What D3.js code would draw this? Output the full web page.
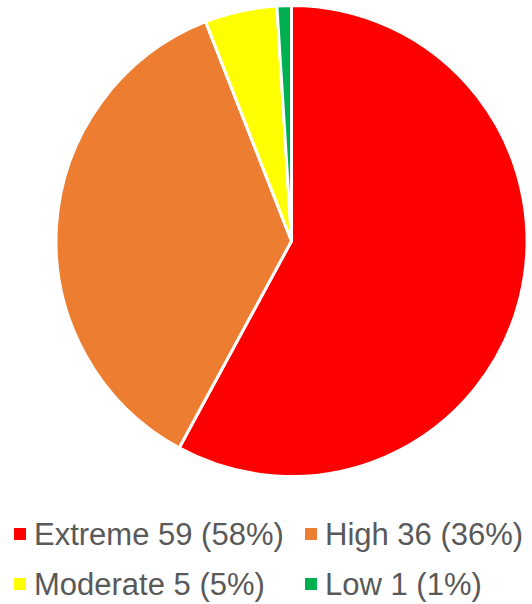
<!DOCTYPE html>
<html>
<head>
  <meta charset="utf-8">
  <script src="https://d3js.org/d3.v7.min.js"></script>
  <style>
    body { margin: 0; background: #fff; }
  </style>
</head>
<body>
  <svg id="chart" width="532" height="604"></svg>
  <script>
    var categories = ["Extreme", "High", "Moderate", "Low"];
    // slice sizes
    var sliceValues = [58.5, 36.5, 5, 1];
    // numbers printed in the legend
    var counts = [59, 36, 5, 1];
    var percents = [58, 36, 5, 1];
    var colors = ["#ff0000", "#ed7d31", "#ffff00", "#00b050"];

    var svg = d3.select("#chart");
    var cx = 291.5, cy = 241, radius = 235.5;

    var data = categories.map(function(c, i) {
      return { name: c, value: sliceValues[i], count: counts[i], pct: percents[i], color: colors[i] };
    });

    var pie = d3.pie()
      .sort(null)
      .value(function(d) { return d.value; });

    var arc = d3.arc()
      .innerRadius(0)
      .outerRadius(radius);

    svg.append("g")
      .attr("transform", "translate(" + cx + "," + cy + ")")
      .selectAll("path")
      .data(pie(data))
      .enter()
      .append("path")
      .attr("d", arc)
      .attr("fill", function(d) { return d.data.color; })
      .attr("stroke", "#fff")
      .attr("stroke-width", 3)
      .attr("stroke-linejoin", "round");

    // legend, two per row
    var legend = svg.append("g")
      .selectAll("g")
      .data(data)
      .enter()
      .append("g")
      .attr("transform", function(d, i) {
        var col = i % 2, row = Math.floor(i / 2);
        return "translate(" + (14 + col * 291) + "," + (545 + row * 50) + ")";
      });

    legend.append("rect")
      .attr("x", 0)
      .attr("y", -17)
      .attr("width", 12)
      .attr("height", 12)
      .attr("fill", function(d) { return d.color; });

    legend.append("text")
      .attr("x", 20)
      .attr("y", 0)
      .attr("font-family", "Liberation Sans, Arial, sans-serif")
      .attr("font-size", 31)
      .attr("fill", "#595959")
      .text(function(d) { return d.name + " " + d.count + " (" + d.pct + "%)"; });
  </script>
</body>
</html>
